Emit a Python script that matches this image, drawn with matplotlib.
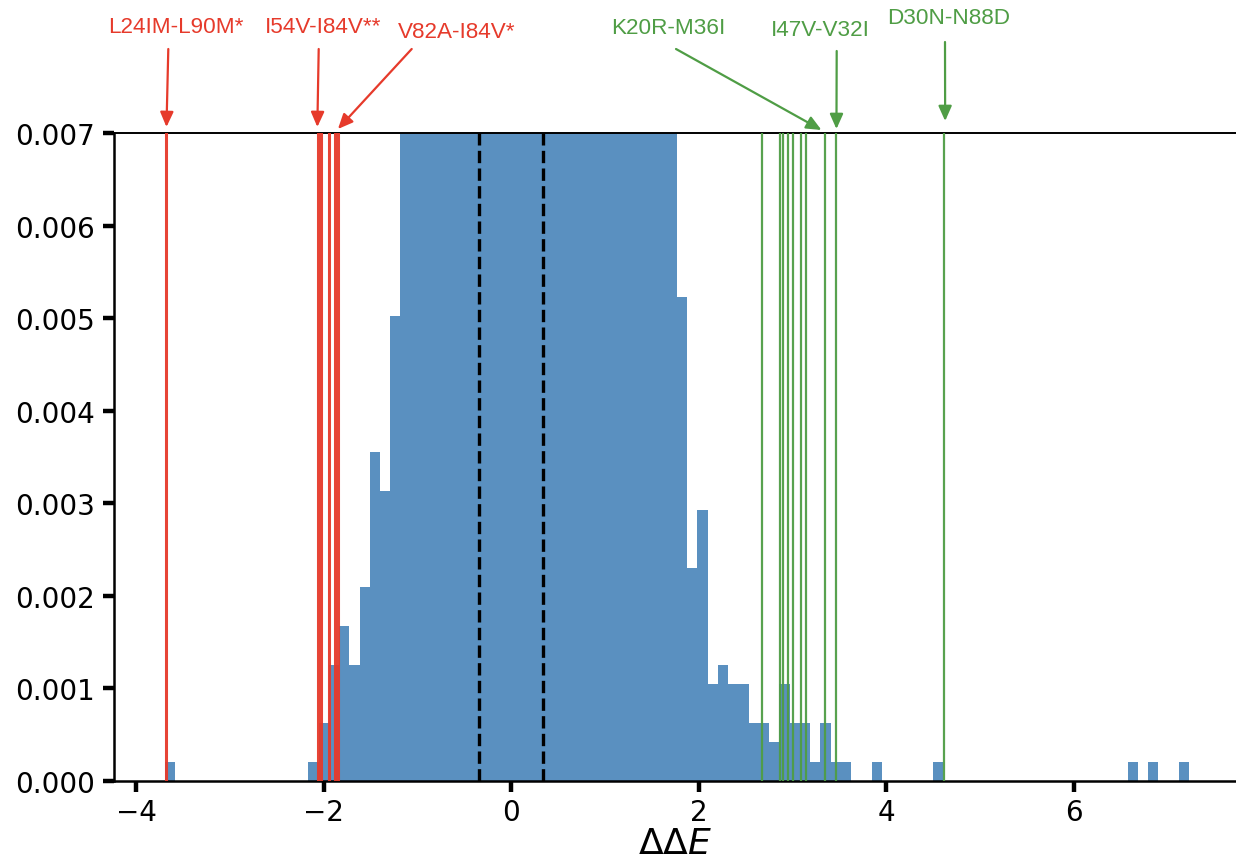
import numpy as np
import matplotlib
matplotlib.use("Agg")
import matplotlib.pyplot as plt

# ---------------- data ----------------
hist_min, hist_max, n_bins = -3.696, 7.232, 100
# counts per bin (bins 23-49 are clipped above the axis limit in the original)
counts = [0] * n_bins
visible_counts = {0: 1, 14: 1, 15: 3, 16: 6, 17: 8, 18: 6, 19: 10, 20: 17, 21: 15, 22: 24,
                  50: 25, 51: 11, 52: 14, 53: 5, 54: 6, 55: 5, 56: 5, 57: 3, 58: 3, 59: 2,
                  60: 5, 61: 3, 62: 3, 63: 1, 64: 3, 65: 1, 66: 1, 69: 1, 75: 1, 94: 1,
                  96: 1, 99: 1}
clipped_counts = [70, 140, 280, 500, 850, 1250, 1700, 2150, 2500, 2800, 2950, 3000, 2950,
                  2850, 2700, 2500, 2350, 2200, 2000, 1850, 1600, 1400, 1100, 850, 560, 320, 130]
for k, v in visible_counts.items():
    counts[k] = v
for i, v in enumerate(clipped_counts):
    counts[23 + i] = v

red_lines = [-3.682, -2.068, -2.036, -1.946, -1.882, -1.850]
green_lines = [2.676, 2.868, 2.900, 2.956, 3.001, 3.092, 3.145, 3.343, 3.465, 4.618]
dashed_lines = [-0.342, 0.335]

labels = ["L24IM-L90M*", "I54V-I84V**", "V82A-I84V*", "K20R-M36I", "I47V-V32I", "D30N-N88D"]
label_targets = [-3.68, -2.07, -1.85, 3.31, 3.47, 4.63]
label_groups = ["red", "red", "red", "green", "green", "green"]

y_ticks = [0.000, 0.001, 0.002, 0.003, 0.004, 0.005, 0.006, 0.007]
x_ticks = [-4, -2, 0, 2, 4, 6]

# ---------------- layout ----------------
W, H = 1236, 862
RED = "#e63a2b"
GREEN = "#4f9d45"
BLUE = "#5a90c0"
colors = {"red": RED, "green": GREEN}
# label text centers (px from top-left), arrow starts, arrow tip y (px from top)
text_pos = [(176, 27.5), (323, 27.5), (457, 32), (668, 28), (820, 30), (949, 18)]
arrow_start = [(168.3, 50), (318.7, 50), (411.7, 50), (676, 50), (836.7, 52), (945, 43)]
arrow_tip_y = [128, 128, 130, 131, 130, 122]

fig = plt.figure(figsize=(W / 100, H / 100), dpi=100)
ax_left, ax_top, ax_bottom = 114, 134, 782
ax = fig.add_axes([ax_left / W, (H - ax_bottom) / H, (W - ax_left) / W, (ax_bottom - ax_top) / H])

edges = np.linspace(hist_min, hist_max, n_bins + 1)
centers = 0.5 * (edges[:-1] + edges[1:])
ax.hist(centers, bins=edges, weights=counts, density=True, color=BLUE, zorder=1)

for x in red_lines:
    ax.axvline(x, color=RED, lw=2.2, alpha=0.95, zorder=3)
for x in green_lines:
    ax.axvline(x, color=GREEN, lw=1.6, alpha=0.95, zorder=3)
for x in dashed_lines:
    ax.axvline(x, color="black", lw=2.4, ls="--", zorder=4)

ax.set_xlim(-4.24, 7.734)
ax.set_ylim(0, 0.007)
ax.set_yticks(y_ticks)
ax.set_yticklabels([f"{v:.3f}" for v in y_ticks])
ax.set_xticks(x_ticks)
ax.set_xticklabels([f"\u2212{abs(v)}" if v < 0 else f"{v}" for v in x_ticks])

ax.spines["right"].set_visible(False)
ax.spines["top"].set_linewidth(1.4)
ax.spines["left"].set_linewidth(1.8)
ax.spines["bottom"].set_linewidth(1.8)
ax.tick_params(axis="both", which="major", length=8, width=3.2, labelsize=20, pad=6)
ax.tick_params(axis="x", pad=4)
ax.set_xlabel(r"$\Delta\Delta E$", fontsize=26, labelpad=0)

trans = ax.get_xaxis_transform()
ax_h_px = ax_bottom - ax_top
for lab, tx, grp, tp, st, ty in zip(labels, label_targets, label_groups, text_pos, arrow_start, arrow_tip_y):
    c = colors[grp]
    tip_yfrac = 1 + (ax_top - ty) / ax_h_px
    ax.annotate("", xy=(tx, tip_yfrac), xycoords=trans,
                xytext=(st[0], H - st[1]), textcoords="figure pixels",
                arrowprops=dict(arrowstyle="-|>,head_length=0.45,head_width=0.2",
                                color=c, lw=1.6, shrinkA=0, shrinkB=0, mutation_scale=20),
                annotation_clip=False)
    fig.text(tp[0] / W, 1 - tp[1] / H, lab, color=c, fontsize=16.2,
             family="Liberation Sans", ha="center", va="center")

fig.savefig("out.png", dpi=100)
